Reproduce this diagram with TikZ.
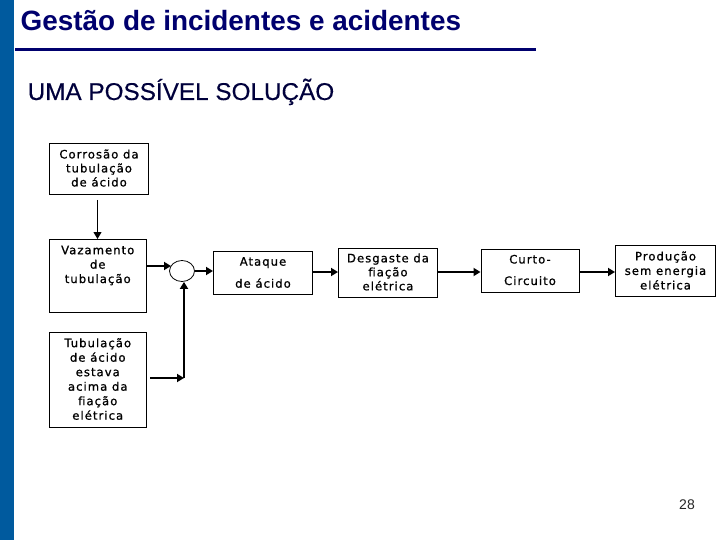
\documentclass[tikz,border=0pt]{standalone}
\usepackage{fontspec}
\setmainfont{Liberation Sans}
\newfontfamily\boxfont[LetterSpace=9,FakeBold=1]{DejaVu Sans}
\usetikzlibrary{arrows.meta,calc,shapes.geometric}
\definecolor{band}{RGB}{0,90,158}
\definecolor{navyt}{RGB}{0,0,110}
\definecolor{subt}{RGB}{0,0,60}
\tikzset{
  x=1pt,y=-1pt,
  boxn/.style={draw=black,line width=1pt,fill=white,inner sep=0pt,align=center,anchor=north west},
  link/.style={line width=2.4pt,-{Triangle[length=7pt,width=8pt]}},
  thinlink/.style={line width=1pt,-{Triangle[length=7pt,width=8pt]}},
}
\newcommand{\bx}[7]{\node[boxn,minimum width=#3,minimum height=#4] (#1) at (#2) {};
  \node[inner sep=0pt,align=center,font=\boxfont\fontsize{11.6}{#6}\selectfont] (#1t) at ($(#1.north)+(0,#5)$) {#7};}
\begin{document}
\begin{tikzpicture}
\useasboundingbox (0,0) rectangle (720,540);
\fill[white] (0,0) rectangle (720,540);
\fill[band] (0,0) rectangle (14,540);
\node[anchor=base west,inner sep=0pt,text=navyt,font=\bfseries\fontsize{27.9}{32}\selectfont] (title) at (20.5,31) {Gestão de incidentes e acidentes};
\coordinate (ruleL) at (15,50);
\coordinate (ruleR) at (536,50);
\draw[navyt,line width=3pt] (ruleL) -- (ruleR);
\node[anchor=base west,inner sep=0pt,text=subt,font=\fontsize{24.3}{28}\selectfont] (sub) at (27.5,100) {\addfontfeature{FakeBold=0.3}UMA POSSÍVEL SOLUÇÃO};

\bx{a}{49,143.5}{99pt}{50.5pt}{24.5}{14}{Corrosão da\\tubulação\\de ácido}
\bx{b}{48.5,239}{97.5pt}{72.5pt}{26.5}{14.4}{Vazamento\\de\\tubulação}
\bx{c}{48.5,332}{97.5pt}{95pt}{47}{14.5}{Tubulação\\de ácido\\estava\\acima da\\f\kern0pt iação\\elétrica}
\bx{d}{213,250.5}{99pt}{43pt}{22}{22}{Ataque\\de ácido}
\bx{e}{338,247.5}{99pt}{49.5pt}{24.5}{14}{Desgaste da\\f\kern0pt iação\\elétrica}
\bx{f}{480.5,248.5}{98pt}{43pt}{21.5}{21.5}{Curto-\\Circuito}
\bx{g}{615,245}{100pt}{51pt}{25.5}{14.5}{Produção\\sem energia\\elétrica}

\node[draw=black,line width=0.8pt,fill=white,ellipse,minimum width=25pt,minimum height=21pt,inner sep=0pt] (s) at (182,271) {};

\coordinate (cj) at (184,378);
\draw[thinlink,shorten <=5pt] (a.south -| 97.5,0) -- (97.5,239);
\draw[link] (146.5,266) -- (171,266);
\draw[link] (s.east) -- (d.west |- s.east);
\draw[link] (d.east |- 0,272) -- (e.west |- 0,272);
\draw[link] (e.east |- 0,272) -- (f.west |- 0,272);
\draw[link] (f.east |- 0,272) -- (g.west |- 0,272);
\draw[link] (150,378) -- (cj);
\draw[link] (cj) -- (s.south -| cj);

\node[anchor=base,inner sep=0pt,font=\fontsize{14}{16}\selectfont,text=black!85] (pg) at (687,509) {28};
\end{tikzpicture}
\end{document}
